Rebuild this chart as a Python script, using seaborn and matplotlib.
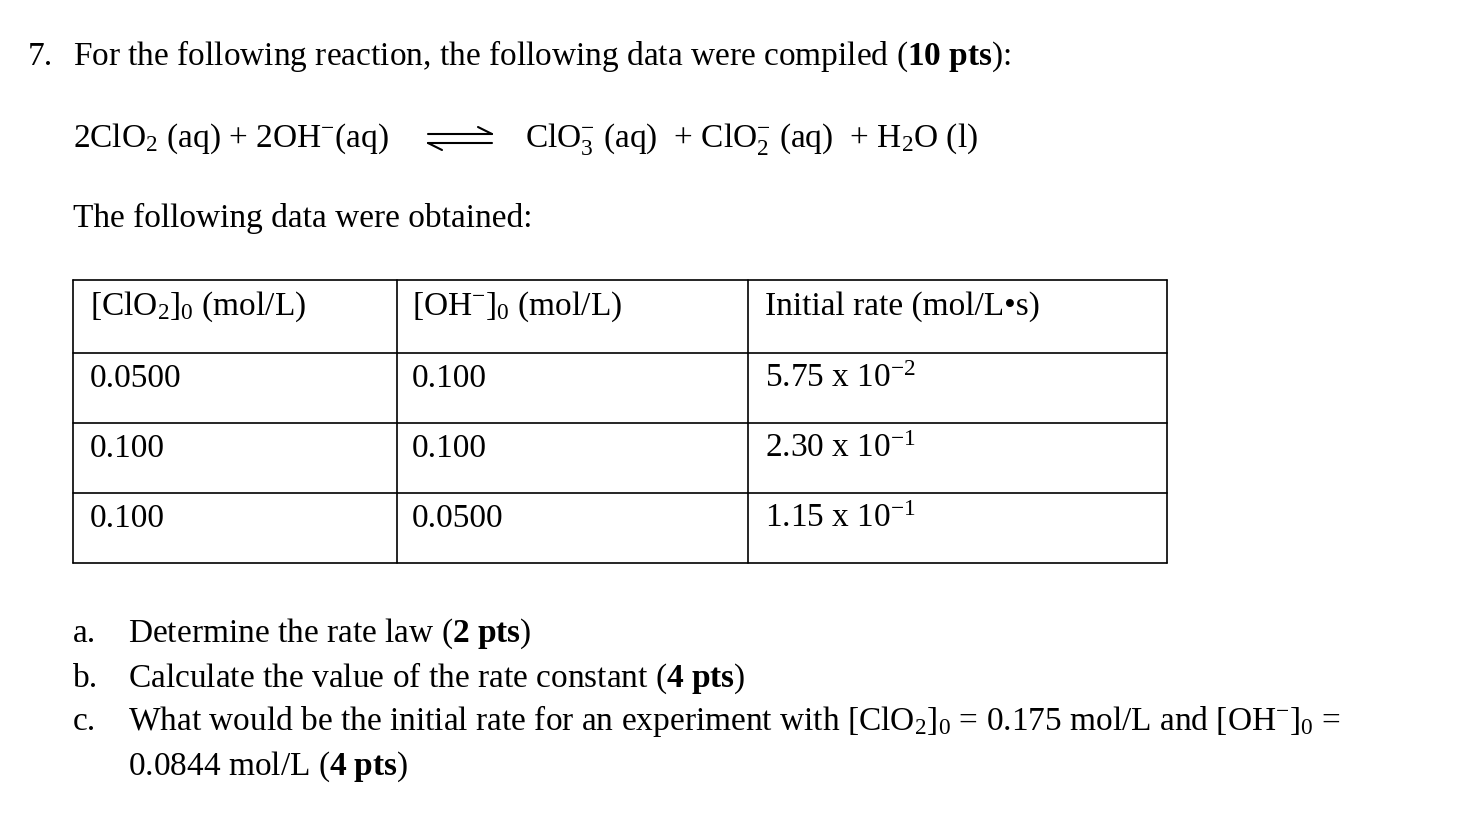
import matplotlib
matplotlib.use("Agg")
import matplotlib.pyplot as plt
import seaborn as sns

sns.set_style("white")
plt.rcParams["font.family"] = "Liberation Serif"
plt.rcParams["mathtext.fontset"] = "custom"
plt.rcParams["mathtext.rm"] = "Liberation Serif"
plt.rcParams["mathtext.it"] = "Liberation Serif:italic"
plt.rcParams["mathtext.bf"] = "Liberation Serif:bold"

headers = [r"[ClO$_2$]$_0$ (mol/L)", r"[OH$^{-}$]$_0$ (mol/L)", "Initial rate (mol/L•s)"]
clo2 = ["0.0500", "0.100", "0.100"]
oh = ["0.100", "0.100", "0.0500"]
rates = [r"5.75 x 10$^{-2}$", r"2.30 x 10$^{-1}$", r"1.15 x 10$^{-1}$"]
parts = ["a.", "b.", "c.", ""]
questions = [
    r"Determine the rate law ($\mathbf{2\ pts}$)",
    r"Calculate the value of the rate constant ($\mathbf{4\ pts}$)",
    r"What would be the initial rate for an experiment with [ClO$_2$]$_0$ = 0.175 mol/L and [OH$^{-}$]$_0$ =",
    r"0.0844 mol/L ($\mathbf{4\ pts}$)",
]

fig = plt.figure(figsize=(14.76, 8.14), dpi=100)
ax = fig.add_axes([0, 0, 1, 1])
ax.set_xlim(0, 1476)
ax.set_ylim(814, 0)
ax.axis("off")
fs = 24

def txt(x, y, s):
    ax.text(x, y + 10, s, fontsize=fs, va="baseline", ha="left", color="black")

txt(28, 55, "7.")
txt(73, 55, r"For the following reaction, the following data were compiled ($\mathbf{10\ pts}$):")
txt(73, 137, r"2ClO$_2$ (aq) + 2OH$^{-}$(aq)")
txt(525, 137, r"ClO$_3^{-}$ (aq)  + ClO$_2^{-}$ (aq)  + H$_2$O (l)")
# equilibrium arrow
ax.plot([428, 492], [134, 134], color="black", lw=1.5)
ax.plot([478, 492], [127, 134], color="black", lw=1.5)
ax.plot([428, 492], [143, 143], color="black", lw=1.5)
ax.plot([428, 442], [143, 150], color="black", lw=1.5)
txt(73, 217, "The following data were obtained:")

# table
xs = [73, 397, 748, 1167]
ys = [280, 353, 423, 493, 563]
for y in ys:
    ax.plot([xs[0], xs[-1]], [y, y], color="black", lw=1.2)
for x in xs:
    ax.plot([x, x], [ys[0], ys[-1]], color="black", lw=1.2)
col_x = [90, 412, 765]
for j, h in enumerate(headers):
    txt(col_x[j], 305, h)
for i in range(3):
    y = 377 + 70 * i
    txt(col_x[0], y, clo2[i])
    txt(col_x[1], y, oh[i])
    txt(col_x[2], y, rates[i])

qy = [632, 677, 720, 765]
for p, q, y in zip(parts, questions, qy):
    txt(73, y, p)
    txt(128, y, q)

fig.savefig("out.png", dpi=100, facecolor="white")
